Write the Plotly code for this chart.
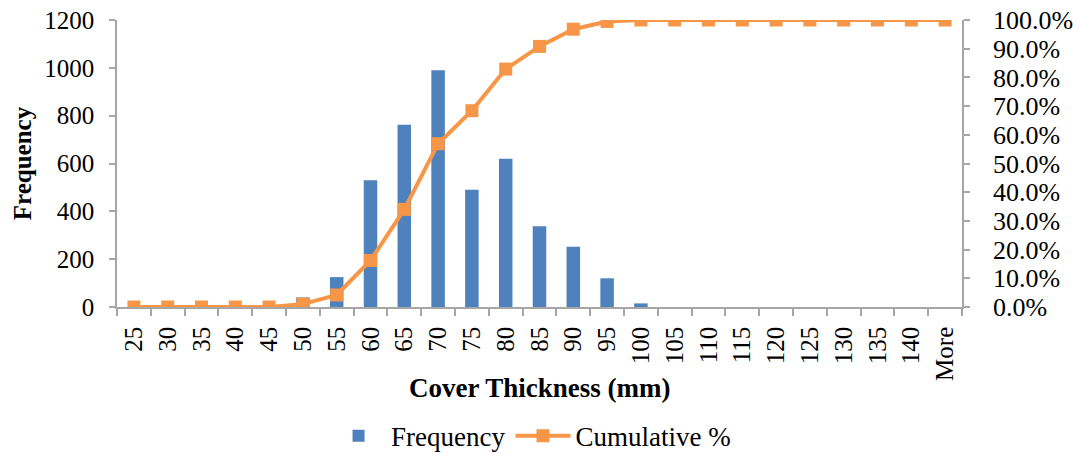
import plotly.graph_objects as go

# Bin labels (upper edge of each cover-thickness bin, mm)
bins = ["25", "30", "35", "40", "45", "50", "55", "60", "65", "70", "75", "80",
        "85", "90", "95", "100", "105", "110", "115", "120", "125", "130",
        "135", "140", "More"]

# Count of readings in each bin
frequency = [0, 0, 0, 0, 0, 40, 125, 530, 762, 990, 490, 620,
             338, 252, 120, 15, 0, 0, 0, 0, 0, 0,
             0, 0, 0]

# Running share of readings up to each bin (%)
cumulative_pct = [0.0, 0.0, 0.0, 0.0, 0.0, 1.0, 4.2, 16.2, 34.0, 56.9, 68.4, 82.9,
                  90.8, 96.8, 99.5, 100.0, 100.0, 100.0, 100.0, 100.0, 100.0, 100.0,
                  100.0, 100.0, 100.0]

freq_ticks = [0, 200, 400, 600, 800, 1000, 1200]
pct_ticks = [0, 10, 20, 30, 40, 50, 60, 70, 80, 90, 100]
pct_tick_text = ["0.0%", "10.0%", "20.0%", "30.0%", "40.0%", "50.0%",
                 "60.0%", "70.0%", "80.0%", "90.0%", "100.0%"]

BLUE = "#4F81BD"
ORANGE = "#F79646"
AXIS_GREY = "#A6A6A6"
FONT = "Liberation Serif"

fig = go.Figure()

fig.add_trace(go.Bar(
    x=bins, y=frequency, name="Frequency",
    marker=dict(color=BLUE, line=dict(width=0)),
    yaxis="y",
))

fig.add_trace(go.Scatter(
    x=bins, y=cumulative_pct, name="Cumulative %",
    mode="lines+markers",
    line=dict(color=ORANGE, width=4),
    marker=dict(symbol="square", size=13, color=ORANGE),
    yaxis="y2",
))

fig.update_layout(
    width=1073, height=453,
    margin=dict(l=117, r=111, t=20, b=146, autoexpand=False),
    paper_bgcolor="white", plot_bgcolor="white",
    font=dict(family=FONT, size=25, color="black"),
    bargap=0.6,
    showlegend=True,
    legend=dict(
        orientation="h", x=0.49, xanchor="center", y=-0.45, yanchor="middle",
        font=dict(family=FONT, size=27), itemwidth=55, traceorder="normal",
    ),
    xaxis=dict(
        type="category", categoryorder="array", categoryarray=bins,
        range=[-0.5, len(bins) - 0.5], autorange=False,
        tickangle=-90, tickson="boundaries", ticks="outside", ticklen=7,
        tickcolor=AXIS_GREY, tickwidth=1.5,
        showline=True, linecolor=AXIS_GREY, linewidth=1.5,
        showgrid=False, zeroline=False,
        tickfont=dict(family=FONT, size=25),
        ticklabelstandoff=8,
    ),
    yaxis=dict(
        range=[0, 1200], tickvals=freq_ticks,
        ticks="outside", ticklen=6, tickcolor=AXIS_GREY, tickwidth=1.5,
        showline=True, linecolor=AXIS_GREY, linewidth=1.5,
        showgrid=False, zeroline=False,
        tickfont=dict(family=FONT, size=25),
        ticklabelstandoff=10,
        title=dict(text="<b>Frequency</b>", font=dict(family=FONT, size=25), standoff=6),
    ),
    yaxis2=dict(
        range=[0, 100], tickvals=pct_ticks, ticktext=pct_tick_text,
        overlaying="y", side="right",
        ticks="outside", ticklen=6, tickcolor=AXIS_GREY, tickwidth=1.5,
        showline=True, linecolor=AXIS_GREY, linewidth=1.5,
        showgrid=False, zeroline=False,
        tickfont=dict(family=FONT, size=26),
        ticklabelstandoff=18,
    ),
    annotations=[dict(
        text="<b>Cover Thickness (mm)</b>", xref="paper", yref="paper",
        x=0.5, y=-0.282, xanchor="center", yanchor="middle", showarrow=False,
        font=dict(family=FONT, size=27),
    )],
)

fig.write_html("out.html")
